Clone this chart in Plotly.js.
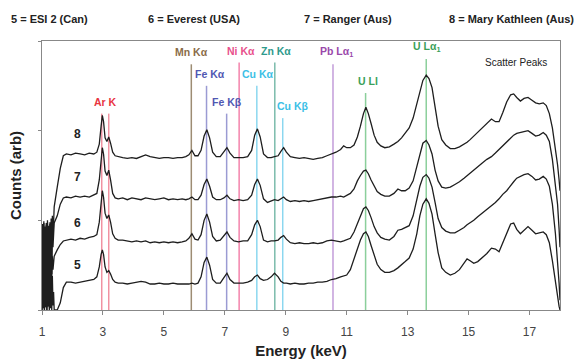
<!DOCTYPE html>
<html>
<head>
<meta charset="utf-8">
<script src="https://cdn.plot.ly/plotly-3.0.1.min.js"></script>
<style>html,body{margin:0;padding:0;background:#fff;}#chart{width:584px;height:359px;}</style>
</head>
<body>
<div id="chart"></div>
<script>
// ---------- DATA ----------
const energy = [1.00,1.02,1.04,1.06,1.08,1.10,1.12,1.14,1.16,1.18,1.20,1.22,1.24,1.26,1.28,1.30,1.32,1.34,1.36,1.38,
1.40,1.50,1.60,1.70,1.80,1.95,2.10,2.25,2.40,2.55,2.70,2.80,2.88,2.94,2.98,3.02,3.07,3.13,3.19,3.25,3.32,3.40,3.50,3.65,3.80,3.95,4.10,4.25,4.40,4.55,4.70,4.85,5.00,5.15,5.30,5.45,5.60,5.72,5.82,5.92,6.02,6.12,6.22,6.32,6.41,6.50,6.60,6.72,6.85,6.97,7.07,7.17,7.30,7.45,7.60,7.75,7.88,7.98,8.07,8.16,8.27,8.40,8.52,8.63,8.75,8.84,8.93,9.02,9.15,9.30,9.45,9.60,9.75,9.90,10.05,10.20,10.35,10.50,10.65,10.80,10.90,11.00,11.12,11.24,11.35,11.45,11.55,11.63,11.71,11.80,11.90,12.00,12.12,12.25,12.40,12.55,12.68,12.80,12.92,13.05,13.18,13.30,13.40,13.50,13.61,13.70,13.80,13.90,14.00,14.12,14.25,14.40,14.55,14.70,14.85,14.95,15.05,15.17,15.30,15.45,15.60,15.75,15.88,16.00,16.12,16.25,16.38,16.48,16.58,16.70,16.82,16.95,17.08,17.20,17.32,17.45,17.55,17.65,17.75,17.85,17.92,17.97,18.00];

const counts8 = [0.02,0.96,0.05,0.99,0.00,0.93,0.08,0.97,0.03,1.00,0.10,0.94,0.05,0.98,0.30,1.02,0.55,1.05,0.80,1.10,
1.15,1.37,1.58,1.72,1.74,1.73,1.75,1.74,1.73,1.75,1.74,1.76,1.85,2.05,2.17,2.10,1.92,1.88,1.93,1.86,1.76,1.72,1.71,1.70,1.69,1.70,1.69,1.71,1.73,1.71,1.70,1.69,1.70,1.70,1.69,1.70,1.70,1.71,1.73,1.78,1.72,1.72,1.78,1.94,2.01,1.92,1.76,1.71,1.71,1.76,1.81,1.75,1.70,1.70,1.70,1.71,1.78,1.95,2.02,1.93,1.74,1.70,1.70,1.71,1.72,1.77,1.81,1.76,1.71,1.70,1.69,1.70,1.69,1.68,1.69,1.70,1.72,1.74,1.76,1.79,1.83,1.81,1.81,1.84,1.93,2.05,2.19,2.26,2.19,2.08,1.95,1.87,1.83,1.81,1.82,1.85,1.88,1.92,1.97,2.03,2.14,2.30,2.45,2.56,2.62,2.58,2.48,2.28,2.05,1.90,1.84,1.80,1.80,1.82,1.85,1.87,1.90,1.94,1.98,2.04,2.09,2.13,2.10,2.10,2.20,2.32,2.40,2.41,2.37,2.33,2.36,2.37,2.34,2.31,2.30,2.31,2.28,2.19,2.03,1.80,1.62,1.45,1.33];

const counts7 = [0.00,0.92,0.04,0.97,0.02,0.90,0.06,0.95,0.00,0.98,0.08,0.91,0.03,0.96,0.20,0.93,0.40,0.97,0.70,0.96,
0.97,1.05,1.18,1.25,1.26,1.25,1.27,1.26,1.27,1.26,1.28,1.30,1.45,1.70,1.81,1.74,1.55,1.50,1.56,1.45,1.30,1.25,1.24,1.25,1.23,1.25,1.24,1.23,1.25,1.24,1.23,1.24,1.25,1.23,1.24,1.23,1.24,1.23,1.24,1.26,1.23,1.23,1.28,1.40,1.46,1.38,1.26,1.23,1.23,1.25,1.28,1.24,1.22,1.23,1.22,1.23,1.28,1.40,1.46,1.39,1.24,1.20,1.22,1.23,1.22,1.24,1.26,1.23,1.21,1.22,1.21,1.22,1.21,1.22,1.23,1.24,1.25,1.26,1.26,1.27,1.26,1.28,1.30,1.35,1.44,1.50,1.55,1.56,1.52,1.45,1.38,1.32,1.29,1.27,1.27,1.30,1.35,1.33,1.33,1.36,1.44,1.60,1.76,1.86,1.89,1.84,1.74,1.56,1.44,1.37,1.36,1.37,1.40,1.43,1.47,1.50,1.53,1.56,1.60,1.64,1.68,1.71,1.75,1.79,1.83,1.87,1.92,1.95,1.97,1.98,1.99,2.00,1.97,1.94,1.95,1.98,1.95,1.88,1.68,1.42,1.18,0.90,0.70];

const counts6 = [0.05,0.62,0.10,0.66,0.02,0.60,0.12,0.64,0.06,0.58,0.15,0.63,0.10,0.60,0.25,0.57,0.35,0.60,0.45,0.59,
0.60,0.67,0.73,0.77,0.78,0.79,0.78,0.80,0.79,0.81,0.82,0.84,0.98,1.22,1.33,1.26,1.08,1.02,1.06,0.98,0.85,0.80,0.78,0.78,0.77,0.76,0.77,0.76,0.77,0.75,0.76,0.75,0.76,0.75,0.76,0.75,0.76,0.77,0.80,0.85,0.79,0.78,0.84,1.00,1.07,0.98,0.82,0.77,0.78,0.83,0.87,0.81,0.77,0.76,0.77,0.77,0.84,0.95,1.00,0.93,0.78,0.76,0.77,0.77,0.78,0.81,0.83,0.79,0.75,0.74,0.75,0.74,0.74,0.75,0.74,0.75,0.77,0.78,0.77,0.76,0.77,0.78,0.80,0.87,0.97,1.06,1.13,1.15,1.11,1.03,0.93,0.86,0.81,0.79,0.78,0.82,0.89,0.90,0.92,0.94,1.05,1.22,1.38,1.48,1.51,1.47,1.37,1.20,1.02,0.92,0.88,0.86,0.86,0.89,0.92,0.95,0.97,1.00,1.04,1.08,1.12,1.16,1.20,1.24,1.29,1.33,1.38,1.43,1.47,1.49,1.51,1.52,1.49,1.45,1.46,1.49,1.46,1.38,1.18,0.85,0.58,0.30,0.11];

const counts5 = [0.00,0.58,0.02,0.62,0.00,0.55,0.03,0.60,0.00,0.52,0.04,0.57,0.00,0.50,0.02,0.45,0.00,0.38,0.05,0.20,
0.00,0.00,0.08,0.25,0.31,0.31,0.30,0.31,0.32,0.33,0.34,0.37,0.48,0.62,0.67,0.62,0.48,0.42,0.44,0.40,0.34,0.31,0.30,0.30,0.29,0.30,0.31,0.32,0.31,0.29,0.29,0.30,0.29,0.29,0.30,0.29,0.29,0.29,0.29,0.30,0.29,0.30,0.37,0.53,0.59,0.50,0.34,0.30,0.30,0.36,0.41,0.34,0.30,0.30,0.30,0.31,0.33,0.37,0.39,0.35,0.33,0.34,0.37,0.41,0.37,0.32,0.30,0.30,0.29,0.30,0.29,0.29,0.30,0.30,0.31,0.31,0.32,0.34,0.35,0.37,0.38,0.39,0.45,0.56,0.68,0.78,0.85,0.87,0.82,0.72,0.60,0.51,0.45,0.42,0.42,0.44,0.47,0.50,0.54,0.58,0.68,0.85,1.05,1.18,1.24,1.19,1.07,0.85,0.64,0.47,0.42,0.39,0.41,0.45,0.53,0.57,0.55,0.52,0.54,0.58,0.63,0.69,0.68,0.65,0.75,0.85,0.96,0.97,0.90,0.85,0.89,0.93,0.89,0.85,0.86,0.87,0.84,0.75,0.55,0.30,0.12,0.04,0.00];

const seriesNumbers = ['5','6','7','8'];
const seriesNames = ['5 = ESI 2 (Can)','6 = Everest (USA)','7 = Ranger (Aus)','8 = Mary Kathleen (Aus)'];
const labelEnergy = 2.18;
const labelLevels = [0.50, 0.97, 1.48, 1.96];

const lineLabels = ['Ar K','','Mn K\u03b1','Fe K\u03b1','Fe K\u03b2','Ni K\u03b1','Cu K\u03b1','Zn K\u03b1','Cu K\u03b2','Pb L\u03b1<sub>1</sub>','U Ll','U L\u03b1<sub>1</sub>'];
const lineEnergies = [2.96, 3.19, 5.90, 6.40, 7.06, 7.47, 8.05, 8.64, 8.90, 10.55, 11.62, 13.61];
const lineTops = [2.19, 2.19, 2.74, 2.50, 2.19, 2.76, 2.50, 2.76, 2.14, 2.74, 2.42, 2.80];

const xTickVals = [1,3,5,7,9,11,13,15,17];
const xTickText = ['1','3','5','7','9','11','13','15','17'];

// ---------- STYLE ----------
const FONT = 'Liberation Sans, Arial, Helvetica, sans-serif';
const lineStyle = [
  {line:'rgba(236,110,130,0.75)', text:'#e8353f', xs:4},
  {line:'rgba(236,110,130,0.75)', text:'#e8353f', xs:0},
  {line:'rgba(140,120,90,0.85)',  text:'#8a6c48', xs:0},
  {line:'rgba(130,130,200,0.8)',  text:'#5058b2', xs:3},
  {line:'rgba(130,130,200,0.8)',  text:'#5058b2', xs:0},
  {line:'rgba(240,100,150,0.8)',  text:'#e8508c', xs:2},
  {line:'rgba(110,205,235,0.8)',  text:'#3cbfe6', xs:1},
  {line:'rgba(90,170,150,0.8)',   text:'#2e9a8c', xs:1},
  {line:'rgba(110,205,235,0.8)',  text:'#3cbfe6', xs:10},
  {line:'rgba(185,140,210,0.85)', text:'#9a48aa', xs:4},
  {line:'rgba(110,195,130,0.8)',  text:'#3aa058', xs:2},
  {line:'rgba(110,195,130,0.8)',  text:'#3aa058', xs:0}
];

const traces = [];
lineEnergies.forEach((e, i) => {
  traces.push({
    x: [e, e], y: [0, lineTops[i]], mode: 'lines', type: 'scatter',
    line: {color: lineStyle[i].line, width: 1.5},
    hoverinfo: 'skip', showlegend: false
  });
});
[counts5, counts6, counts7, counts8].forEach((c, i) => {
  traces.push({
    x: energy, y: c, mode: 'lines', type: 'scatter', name: seriesNames[i],
    line: {color: '#1e1e1e', width: 1.3},
    showlegend: false
  });
});

const annotations = [];
lineLabels.forEach((t, i) => {
  if (!t) return;
  annotations.push({
    x: lineEnergies[i], y: lineTops[i], xref: 'x', yref: 'y', text: '<b>' + t + '</b>',
    showarrow: false, yanchor: 'middle', xanchor: 'center', yshift: 12, xshift: lineStyle[i].xs,
    font: {family: FONT, size: 10.5, color: lineStyle[i].text}
  });
});
seriesNumbers.forEach((t, i) => {
  annotations.push({
    x: labelEnergy, y: labelLevels[i], xref: 'x', yref: 'y', text: '<b>' + t + '</b>',
    showarrow: false, font: {family: FONT, size: 12, color: '#222'}
  });
});
annotations.push({
  x: 16.54, y: 2.76, xref: 'x', yref: 'y', text: 'Scatter Peaks', showarrow: false,
  font: {family: FONT, size: 10, color: '#222'}
});
const legendX = [-0.0637, 0.2008, 0.502, 0.782];
seriesNames.forEach((t, i) => {
  annotations.push({
    x: legendX[i], y: 1.082, xref: 'paper', yref: 'paper', xanchor: 'left', yanchor: 'middle',
    text: '<b>' + t + '</b>', showarrow: false,
    font: {family: FONT, size: 11, color: '#222'}
  });
});

const layout = {
  width: 584, height: 359,
  margin: {l: 42, r: 24, t: 41, b: 49, pad: 0},
  paper_bgcolor: '#fff', plot_bgcolor: '#fff',
  font: {family: FONT, color: '#333'},
  showlegend: false,
  xaxis: {
    range: [1, 18], tickvals: xTickVals, ticktext: xTickText,
    ticks: 'outside', ticklen: 4, tickcolor: '#888', tickwidth: 1,
    showline: true, linecolor: '#888', linewidth: 1, mirror: true,
    showgrid: false, zeroline: false,
    tickfont: {family: FONT, size: 12, color: '#444'},
    ticklabelstandoff: 7,
    title: {text: '<b>Energy (keV)</b>', font: {family: FONT, size: 15, color: '#222'}, standoff: 7}
  },
  yaxis: {
    range: [0, 3], tickvals: [0, 1, 2, 3], showticklabels: false,
    ticks: 'outside', ticklen: 3, tickcolor: '#888',
    showline: true, linecolor: '#888', linewidth: 1, mirror: true,
    showgrid: false, zeroline: false,
    title: {text: '<b>Counts (arb)</b>', font: {family: FONT, size: 15, color: '#222'}, standoff: 12}
  },
  annotations: annotations
};

Plotly.newPlot('chart', traces, layout, {displayModeBar: false, staticPlot: true});
</script>
</body>
</html>
